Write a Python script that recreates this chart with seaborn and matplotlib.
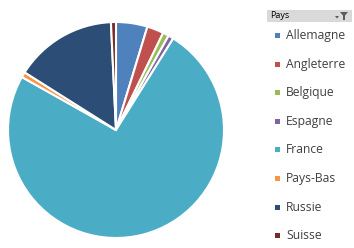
import matplotlib
matplotlib.use("Agg")
import matplotlib.pyplot as plt
import seaborn as sns
from matplotlib.patches import Rectangle, Polygon

sns.set_theme(style="white")
plt.rcParams['font.family'] = ['Open Sans', 'DejaVu Sans']

pays = ["Allemagne", "Angleterre", "Belgique", "Espagne", "France", "Pays-Bas", "Russie", "Suisse"]
valeurs = [4.7, 2.5, 0.9, 0.8, 74.3, 0.8, 15.3, 0.75]
couleurs = ["#4F81BD", "#C0504D", "#9BBB59", "#8064A2", "#4BACC6", "#F79646", "#2C4D75", "#772C2A"]
titre_legende = "Pays"

W, H = 354, 248
fig = plt.figure(figsize=(W / 100, H / 100), dpi=100)
fig.patch.set_facecolor("white")

cx, cy, r = 116, 130, 108
ax = fig.add_axes([(cx - r) / W, (H - cy - r) / H, 2 * r / W, 2 * r / H])
ax.pie(valeurs, colors=couleurs, startangle=90, counterclock=False,
       wedgeprops=dict(edgecolor="white", linewidth=1.5))
ax.set_aspect("equal")
ax.set_xlim(-1.0, 1.0)
ax.set_ylim(-1.0, 1.0)
ax.axis("off")

def fx(px):
    return px / W

def fy(py):
    return 1 - py / H

# legend header
fig.patches.append(Rectangle((fx(267), fy(21)), (351 - 267) / W, 11 / H,
                             transform=fig.transFigure, facecolor="#dadada",
                             edgecolor="#cfcfcf", linewidth=0.5))
fig.text(fx(270), fy(15.5), titre_legende, fontsize=6.5, color="#000000",
         va="center", ha="left")
# filter icon
fig.patches.append(Polygon([(fx(340), fy(12)), (fx(348), fy(12)), (fx(345), fy(15.5)),
                            (fx(345), fy(20)), (fx(343), fy(20)), (fx(343), fy(15.5))],
                           closed=True, transform=fig.transFigure,
                           facecolor="#5a5a5a", edgecolor="none"))
fig.patches.append(Polygon([(fx(335), fy(16)), (fx(339), fy(16)), (fx(337), fy(18.5))],
                           closed=True, transform=fig.transFigure,
                           facecolor="#5a5a5a", edgecolor="none"))

# legend items
y0, dy = 35.5, 28.6
for i, (nom, c) in enumerate(zip(pays, couleurs)):
    yc = y0 + i * dy
    fig.patches.append(Rectangle((fx(275), fy(yc + 2.5)), 5 / W, 5 / H,
                                 transform=fig.transFigure, facecolor=c, edgecolor="none"))
    fig.text(fx(286), fy(yc), nom, fontsize=8.7, color="#404040", va="center", ha="left")

fig.savefig("out.png", dpi=100, facecolor="white")
